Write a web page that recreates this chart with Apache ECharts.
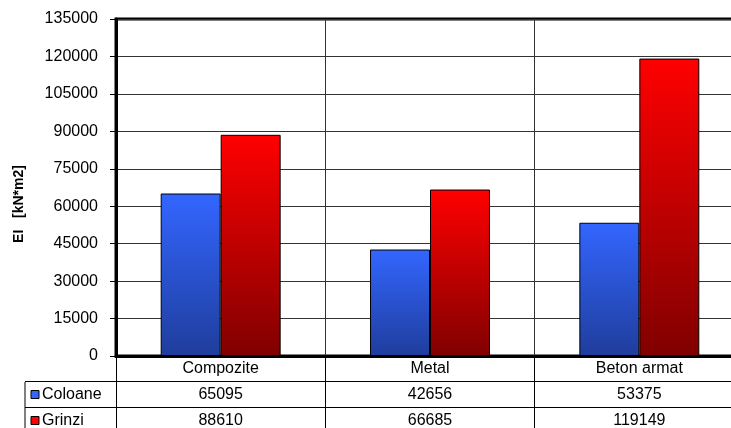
<!DOCTYPE html>
<html>
<head>
<meta charset="utf-8">
<script src="https://cdn.jsdelivr.net/npm/echarts@6/dist/echarts.min.js"></script>
<style>
  html, body { margin: 0; padding: 0; background: #fff; }
  #chart { width: 731px; height: 428px; }
</style>
</head>
<body>
<div id="chart"></div>
<script>
// Bending stiffness EI per structural type, columns vs beams
const categories = ['Compozite', 'Metal', 'Beton armat'];
const seriesNames = ['Coloane', 'Grinzi'];
const coloane = [65095, 42656, 53375];
const grinzi = [88610, 66685, 119149];
const yTicks = [0, 15000, 30000, 45000, 60000, 75000, 90000, 105000, 120000, 135000];

const FONT = 'Liberation Sans, Arial, sans-serif';
const seriesColors = [
  { top: '#3366FF', bottom: '#1F3D9C', swatch: '#3366FF' },
  { top: '#FF0000', bottom: '#800000', swatch: '#FF0000' }
];
const seriesValues = [coloane, grinzi];

function grad(c) {
  return new echarts.graphic.LinearGradient(0, 0, 0, 1, [
    { offset: 0, color: c.top },
    { offset: 1, color: c.bottom }
  ]);
}

const chart = echarts.init(document.getElementById('chart'), null, { renderer: 'canvas' });

// Table row text under each category: category name, then one value per series
function tableLabel(value, idx) {
  const parts = ['{c|' + value + '}'];
  seriesValues.forEach(arr => parts.push('{v|' + arr[idx] + '}'));
  return parts.join('\n');
}

const GRID_LEFT = 116, GRID_TOP = 19, GRID_BOTTOM_Y = 356;
const GRID_WIDTH = 628; // plot runs past the right edge of the page
const ROW_H = 26;
const TABLE_LEFT = 25;

const graphics = [];
// rotated y-axis title
graphics.push({
  type: 'text',
  x: 19, y: 204,
  rotation: Math.PI / 2,
  style: {
    text: 'EI   [kN*m2]',
    font: 'bold 14px ' + FONT,
    fill: '#000',
    align: 'center',
    verticalAlign: 'middle'
  }
});
// horizontal table rules and left column frame
for (let r = 0; r < seriesNames.length; r++) {
  const y = GRID_BOTTOM_Y + ROW_H * (r + 1) - 0.5;
  graphics.push({
    type: 'line',
    shape: { x1: TABLE_LEFT, y1: y, x2: 731, y2: y },
    style: { stroke: '#000', lineWidth: 1 }
  });
}
graphics.push({
  type: 'line',
  shape: { x1: TABLE_LEFT, y1: GRID_BOTTOM_Y + ROW_H, x2: TABLE_LEFT, y2: 428 },
  style: { stroke: '#000', lineWidth: 1 }
});
// series keys in the left column
seriesNames.forEach((name, i) => {
  const yc = GRID_BOTTOM_Y + ROW_H * (i + 1) + ROW_H / 2;
  graphics.push({
    type: 'rect',
    shape: { x: 31, y: yc - 4.5, width: 8, height: 8 },
    style: { fill: seriesColors[i].swatch, stroke: '#000', lineWidth: 1 }
  });
  graphics.push({
    type: 'text',
    x: 42, y: yc,
    style: {
      text: name,
      font: '16px ' + FONT,
      fill: '#000',
      align: 'left',
      verticalAlign: 'middle'
    }
  });
});

const option = {
  animation: false,
  backgroundColor: '#fff',
  grid: {
    left: GRID_LEFT,
    width: GRID_WIDTH,
    top: GRID_TOP,
    bottom: 428 - GRID_BOTTOM_Y,
    show: true,
    borderColor: '#000',
    borderWidth: 3,
    containLabel: false,
    outerBoundsMode: 'none'
  },
  xAxis: {
    type: 'category',
    data: categories,
    boundaryGap: true,
    axisLine: { show: true, lineStyle: { color: '#000', width: 3 } },
    axisTick: {
      show: true,
      interval: 0,
      alignWithLabel: false,
      inside: false,
      length: 80,
      lineStyle: { color: '#000', width: 1 }
    },
    splitLine: { show: true, interval: 0, lineStyle: { color: '#333', width: 1 } },
    axisLabel: {
      interval: 0,
      margin: 0,
      formatter: tableLabel,
      verticalAlign: 'top',
      rich: {
        c: { fontFamily: FONT, fontSize: 16, color: '#000', lineHeight: ROW_H, height: ROW_H },
        v: { fontFamily: FONT, fontSize: 16, color: '#000', lineHeight: ROW_H, height: ROW_H }
      }
    }
  },
  yAxis: {
    type: 'value',
    min: 0,
    max: 135000,
    interval: 15000,
    axisLine: { show: true, lineStyle: { color: '#000', width: 3 } },
    axisTick: { show: true, inside: false, length: 6, lineStyle: { color: '#000', width: 1 } },
    splitLine: { show: true, lineStyle: { color: '#333', width: 1 } },
    axisLabel: {
      margin: 18,
      fontFamily: FONT,
      fontSize: 16,
      color: '#000',
      formatter: v => yTicks.includes(v) ? String(v) : ''
    }
  },
  series: seriesNames.map((name, i) => ({
    name: name,
    type: 'bar',
    data: seriesValues[i],
    barGap: '0%',
    barCategoryGap: '42.7%',
    itemStyle: {
      color: grad(seriesColors[i]),
      borderColor: '#000',
      borderWidth: 1
    },
    emphasis: { disabled: true }
  })),
  graphic: graphics
};

chart.setOption(option);
</script>
</body>
</html>
